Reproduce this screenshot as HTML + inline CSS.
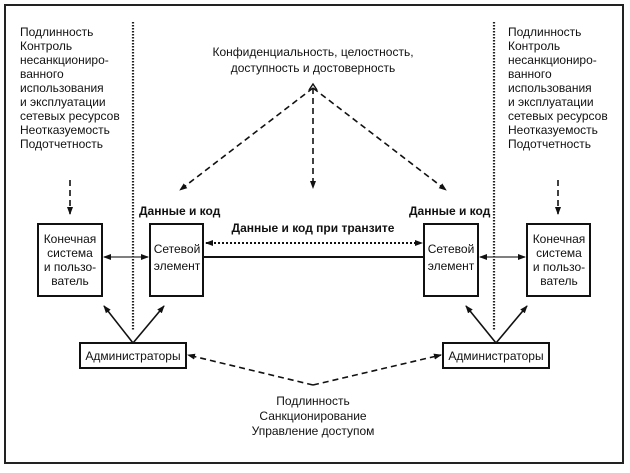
<!DOCTYPE html>
<html><head><meta charset="utf-8"><style>
html,body{margin:0;padding:0;background:#fff;width:630px;height:473px;overflow:hidden}
svg{display:block}
text{font-family:"Liberation Sans",sans-serif;font-size:12px;fill:#111}
.b{font-weight:bold}
</style></head><body>
<svg width="630" height="473" viewBox="0 0 630 473">
<defs>
<marker id="a" markerWidth="8" markerHeight="8" refX="7" refY="4" orient="auto" markerUnits="userSpaceOnUse"><path d="M0,1 L8,4 L0,7 Z" fill="#111"/></marker>
<marker id="s" markerWidth="8" markerHeight="8" refX="1" refY="4" orient="auto" markerUnits="userSpaceOnUse"><path d="M8,1 L0,4 L8,7 Z" fill="#111"/></marker>
</defs>
<rect x="5" y="5" width="618" height="458" fill="none" stroke="#222" stroke-width="2"/>
<line x1="133" y1="22" x2="133" y2="330" stroke="#222" stroke-width="2.2" stroke-dasharray="1.5,1.5"/>
<line x1="494" y1="22" x2="494" y2="330" stroke="#222" stroke-width="2.2" stroke-dasharray="1.5,1.5"/>
<g>
<text x="20" y="36">Подлинность</text>
<text x="20" y="50">Контроль</text>
<text x="20" y="64">несанкциониро-</text>
<text x="20" y="78">ванного</text>
<text x="20" y="92">использования</text>
<text x="20" y="106">и эксплуатации</text>
<text x="20" y="120">сетевых ресурсов</text>
<text x="20" y="134">Неотказуемость</text>
<text x="20" y="148">Подотчетность</text>
</g>
<g>
<text x="508" y="36">Подлинность</text>
<text x="508" y="50">Контроль</text>
<text x="508" y="64">несанкциониро-</text>
<text x="508" y="78">ванного</text>
<text x="508" y="92">использования</text>
<text x="508" y="106">и эксплуатации</text>
<text x="508" y="120">сетевых ресурсов</text>
<text x="508" y="134">Неотказуемость</text>
<text x="508" y="148">Подотчетность</text>
</g>
<text x="313" y="56" text-anchor="middle">Конфиденциальность, целостность,</text>
<text x="313" y="72" text-anchor="middle">доступность и достоверность</text>
<g stroke="#111" stroke-width="1.6" stroke-dasharray="6,4" fill="none">
<line x1="313" y1="88" x2="180" y2="190" marker-end="url(#a)"/>
<line x1="313" y1="88" x2="313" y2="188" marker-end="url(#a)"/>
<line x1="313" y1="88" x2="446" y2="190" marker-end="url(#a)"/>
<line x1="70" y1="180" x2="70" y2="214" marker-end="url(#a)"/>
<line x1="558" y1="180" x2="558" y2="214" marker-end="url(#a)"/>
<line x1="313" y1="385" x2="188" y2="355" marker-end="url(#a)"/>
<line x1="313" y1="385" x2="441" y2="355" marker-end="url(#a)"/>
</g>
<path d="M309,90 L313,84 L317,90" fill="none" stroke="#111" stroke-width="1.4"/>
<text x="139" y="215" class="b">Данные и код</text>
<text x="409" y="215" class="b">Данные и код</text>
<text x="313" y="232" class="b" text-anchor="middle">Данные и код при транзите</text>
<g fill="#fff" stroke="#111" stroke-width="2">
<rect x="38" y="224" width="64" height="72"/>
<rect x="150" y="224" width="53" height="72"/>
<rect x="424" y="224" width="54" height="72"/>
<rect x="527" y="224" width="63" height="72"/>
<rect x="80" y="343" width="106" height="25"/>
<rect x="443" y="343" width="106" height="25"/>
</g>
<g text-anchor="middle">
<text x="70" y="243">Конечная</text><text x="70" y="257">система</text><text x="70" y="271">и пользо-</text><text x="70" y="285">ватель</text>
<text x="177" y="253">Сетевой</text><text x="177" y="270">элемент</text>
<text x="451" y="253">Сетевой</text><text x="451" y="270">элемент</text>
<text x="559" y="243">Конечная</text><text x="559" y="257">система</text><text x="559" y="271">и пользо-</text><text x="559" y="285">ватель</text>
<text x="133" y="360">Администраторы</text>
<text x="496" y="360">Администраторы</text>
<text x="313" y="405">Подлинность</text>
<text x="313" y="420">Санкционирование</text>
<text x="313" y="435">Управление доступом</text>
</g>
<line x1="206" y1="243" x2="422" y2="243" stroke="#111" stroke-width="2" stroke-dasharray="2,2" marker-start="url(#s)" marker-end="url(#a)"/>
<line x1="203" y1="257" x2="424" y2="257" stroke="#111" stroke-width="2"/>
<line x1="104" y1="257" x2="148" y2="257" stroke="#333" stroke-width="1.2" marker-start="url(#s)" marker-end="url(#a)"/>
<line x1="480" y1="257" x2="525" y2="257" stroke="#333" stroke-width="1.2" marker-start="url(#s)" marker-end="url(#a)"/>
<g stroke="#111" stroke-width="1.6">
<line x1="133" y1="343" x2="104" y2="306" marker-end="url(#a)"/>
<line x1="133" y1="343" x2="164" y2="306" marker-end="url(#a)"/>
<line x1="496" y1="343" x2="466" y2="306" marker-end="url(#a)"/>
<line x1="496" y1="343" x2="527" y2="306" marker-end="url(#a)"/>
</g>
</svg>
</body></html>
